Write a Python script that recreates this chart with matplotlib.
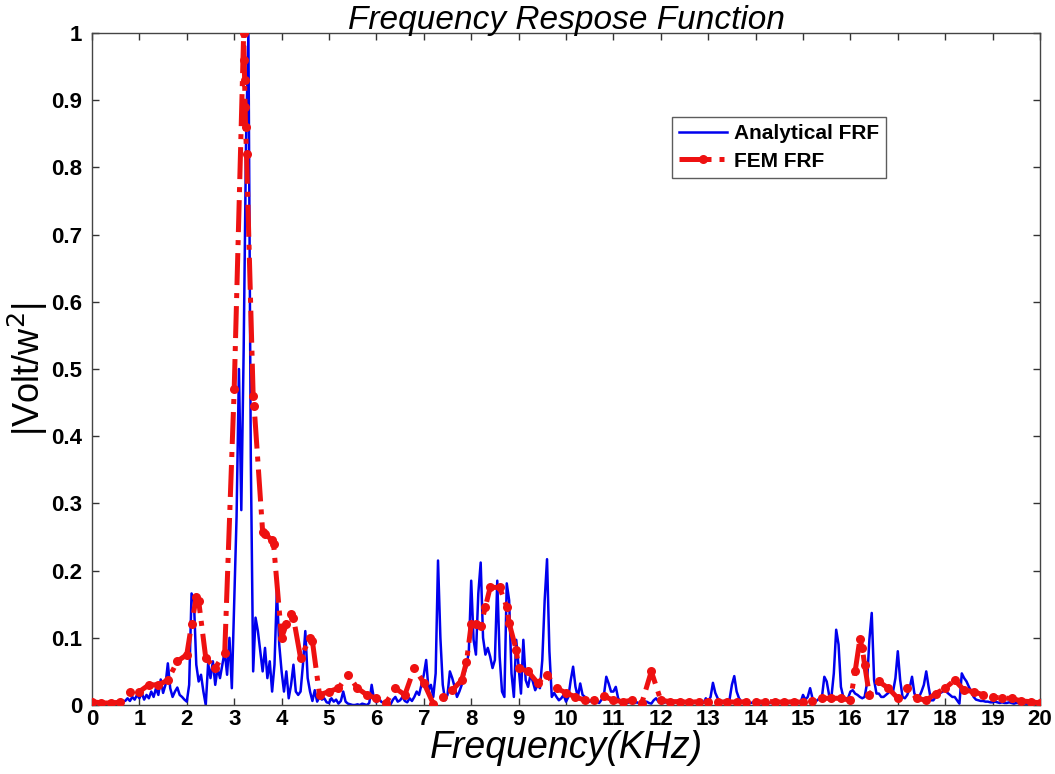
import numpy as np
import matplotlib
matplotlib.use("Agg")
import matplotlib.pyplot as plt

plt.rcParams['font.family'] = ['Liberation Sans', 'DejaVu Sans']

# Analytical FRF sampled every 0.05 kHz (one row per kHz)
freq_step = 0.05
analytical = [
    0.002, 0.002, 0.002, 0.002, 0.002, 0.003, 0.003, 0.003, 0.004, 0.004, 0.005, 0.005, 0.006, 0.006, 0.006, 0.010, 0.006, 0.012, 0.008, 0.015,
    0.010, 0.018, 0.008, 0.015, 0.010, 0.020, 0.012, 0.025, 0.015, 0.038, 0.018, 0.030, 0.062, 0.025, 0.012, 0.020, 0.026, 0.015, 0.012, 0.008,
    0.005, 0.030, 0.166, 0.155, 0.060, 0.035, 0.045, 0.020, 0.000, 0.062, 0.040, 0.065, 0.030, 0.055, 0.040, 0.060, 0.080, 0.045, 0.100, 0.025,
    0.150, 0.280, 0.500, 0.290, 0.530, 0.840, 1.000, 0.370, 0.050, 0.130, 0.110, 0.080, 0.050, 0.085, 0.040, 0.065, 0.020, 0.060, 0.170, 0.090,
    0.050, 0.020, 0.050, 0.010, 0.030, 0.060, 0.020, 0.015, 0.020, 0.060, 0.110, 0.040, 0.020, 0.006, 0.022, 0.005, 0.012, 0.008, 0.010, 0.004,
    0.003, 0.010, 0.005, 0.008, 0.002, 0.006, 0.020, 0.005, 0.002, 0.001, 0.000, 0.000, 0.001, 0.000, 0.002, 0.001, 0.000, 0.003, 0.030, 0.008,
    0.004, 0.010, 0.005, 0.003, 0.002, 0.000, 0.001, 0.008, 0.012, 0.005, 0.007, 0.012, 0.006, 0.004, 0.010, 0.006, 0.012, 0.020, 0.015, 0.030,
    0.045, 0.067, 0.022, 0.030, 0.012, 0.047, 0.215, 0.100, 0.030, 0.007, 0.015, 0.050, 0.040, 0.027, 0.012, 0.020, 0.030, 0.045, 0.057, 0.080,
    0.185, 0.097, 0.075, 0.166, 0.212, 0.100, 0.075, 0.085, 0.072, 0.055, 0.067, 0.185, 0.072, 0.020, 0.012, 0.181, 0.156, 0.047, 0.012, 0.097,
    0.057, 0.017, 0.097, 0.037, 0.027, 0.045, 0.035, 0.022, 0.030, 0.025, 0.067, 0.156, 0.217, 0.080, 0.012, 0.018, 0.012, 0.007, 0.010, 0.015,
    0.005, 0.012, 0.037, 0.057, 0.027, 0.012, 0.032, 0.015, 0.012, 0.007, 0.005, 0.008, 0.004, 0.005, 0.003, 0.008, 0.015, 0.042, 0.032, 0.020,
    0.020, 0.027, 0.010, 0.005, 0.004, 0.006, 0.003, 0.005, 0.004, 0.003, 0.004, 0.002, 0.003, 0.004, 0.005, 0.003, 0.002, 0.007, 0.010, 0.005,
    0.004, 0.003, 0.004, 0.005, 0.003, 0.004, 0.003, 0.005, 0.004, 0.003, 0.004, 0.005, 0.003, 0.004, 0.003, 0.004, 0.005, 0.004, 0.003, 0.010,
    0.005, 0.012, 0.033, 0.018, 0.010, 0.005, 0.004, 0.003, 0.004, 0.008, 0.030, 0.043, 0.020, 0.010, 0.005, 0.004, 0.003, 0.004, 0.003, 0.004,
    0.003, 0.004, 0.003, 0.002, 0.003, 0.004, 0.003, 0.003, 0.002, 0.003, 0.004, 0.003, 0.002, 0.003, 0.003, 0.004, 0.003, 0.002, 0.003, 0.004,
    0.015, 0.008, 0.012, 0.025, 0.010, 0.005, 0.007, 0.010, 0.012, 0.042, 0.035, 0.015, 0.012, 0.047, 0.112, 0.090, 0.027, 0.012, 0.008, 0.010,
    0.020, 0.022, 0.017, 0.015, 0.012, 0.010, 0.012, 0.032, 0.097, 0.137, 0.037, 0.017, 0.017, 0.012, 0.012, 0.015, 0.018, 0.022, 0.020, 0.040,
    0.080, 0.037, 0.012, 0.010, 0.015, 0.025, 0.042, 0.017, 0.012, 0.012, 0.020, 0.030, 0.050, 0.027, 0.007, 0.007, 0.012, 0.015, 0.018, 0.020,
    0.022, 0.018, 0.015, 0.012, 0.012, 0.007, 0.002, 0.047, 0.040, 0.035, 0.027, 0.020, 0.012, 0.008, 0.007, 0.006, 0.006, 0.005, 0.005, 0.004,
    0.004, 0.005, 0.004, 0.003, 0.004, 0.003, 0.003, 0.004, 0.003, 0.002, 0.003, 0.003, 0.002, 0.003, 0.002, 0.002, 0.003, 0.002, 0.002, 0.002,
    0.002,
]
analytical_freq = np.arange(len(analytical)) * freq_step

# FEM FRF samples (kHz, normalised magnitude)
fem_freq = [
    0.0, 0.2, 0.4, 0.6, 0.8, 1.0, 1.2, 1.4, 1.6, 1.8, 2.0, 2.1, 2.2, 2.25, 2.4, 2.6, 2.8,
    3.0, 3.2, 3.21, 3.22, 3.23, 3.24, 3.26, 3.4, 3.42, 3.6, 3.65, 3.8, 3.83,
    4.0, 4.1, 4.2, 4.25, 4.4, 4.6, 4.65, 4.8, 5.0, 5.2, 5.4, 5.6, 5.8, 6.0, 6.2, 6.4, 6.6, 6.8,
    7.0, 7.2, 7.4, 7.6, 7.8, 7.9, 8.0, 8.1, 8.2, 8.3, 8.4, 8.6, 8.75, 8.8, 8.95,
    9.0, 9.2, 9.4, 9.6, 9.8, 10.0, 10.2, 10.4, 10.6, 10.8, 11.0, 11.2, 11.4, 11.6, 11.8,
    12.0, 12.2, 12.4, 12.6, 12.8, 13.0, 13.2, 13.4, 13.6, 13.8, 14.0, 14.2, 14.4, 14.6, 14.8,
    15.0, 15.2, 15.4, 15.6, 15.8, 16.0, 16.1, 16.2, 16.25, 16.3, 16.4, 16.6, 16.8,
    17.0, 17.2, 17.4, 17.6, 17.8, 18.0, 18.2, 18.4, 18.6, 18.8, 19.0, 19.2, 19.4, 19.6, 19.8, 20.0,
]
fem = [
    0.005, 0.003, 0.003, 0.004, 0.020, 0.020, 0.030, 0.030, 0.037, 0.065, 0.075, 0.120, 0.160, 0.155, 0.070, 0.055, 0.078,
    0.470, 1.000, 0.960, 0.930, 0.890, 0.860, 0.820, 0.460, 0.445, 0.258, 0.255, 0.245, 0.240,
    0.100, 0.120, 0.135, 0.130, 0.070, 0.100, 0.095, 0.015, 0.020, 0.025, 0.045, 0.025, 0.015, 0.010, 0.003, 0.025, 0.015, 0.055,
    0.033, 0.002, 0.012, 0.022, 0.037, 0.064, 0.120, 0.121, 0.118, 0.146, 0.175, 0.175, 0.146, 0.122, 0.082,
    0.055, 0.050, 0.033, 0.045, 0.025, 0.018, 0.012, 0.007, 0.008, 0.013, 0.007, 0.005, 0.007, 0.003, 0.050,
    0.007, 0.005, 0.005, 0.004, 0.005, 0.005, 0.004, 0.005, 0.004, 0.005, 0.004, 0.005, 0.005, 0.004, 0.005,
    0.004, 0.006, 0.010, 0.010, 0.010, 0.007, 0.050, 0.098, 0.085, 0.060, 0.015, 0.035, 0.025,
    0.010, 0.025, 0.010, 0.007, 0.017, 0.025, 0.037, 0.022, 0.020, 0.015, 0.012, 0.010, 0.010, 0.006, 0.005, 0.003,
]

x_ticks = list(range(0, 21))
y_ticks = [0, 0.1, 0.2, 0.3, 0.4, 0.5, 0.6, 0.7, 0.8, 0.9, 1]
y_tick_labels = ['0', '0.1', '0.2', '0.3', '0.4', '0.5', '0.6', '0.7', '0.8', '0.9', '1']

fig = plt.figure(figsize=(10.55, 7.74), dpi=100)
ax = fig.add_axes([92 / 1055, 1 - 705 / 774, 948 / 1055, 672 / 774])

ax.plot(analytical_freq, analytical, color='#0000ee', lw=1.8, label='Analytical FRF', zorder=2)
ax.plot(fem_freq, fem, color='#ee1111', lw=3.6, ls='-.', marker='o', markersize=6.5,
        markeredgewidth=0, label='FEM FRF', zorder=3)

ax.set_xlim(0, 20)
ax.set_ylim(0, 1)
ax.set_xticks(x_ticks)
ax.set_xticklabels([str(t) for t in x_ticks])
ax.set_yticks(y_ticks)
ax.set_yticklabels(y_tick_labels)
ax.tick_params(direction='in', top=True, right=True, length=5, width=1, color='#333333',
               labelsize=16)
ax.tick_params(axis='y', pad=7)
ax.tick_params(axis='x', pad=3)
for lab in ax.get_xticklabels() + ax.get_yticklabels():
    lab.set_fontweight('bold')
for sp in ax.spines.values():
    sp.set_color('#444444')
    sp.set_linewidth(1.0)

ax.set_title('Frequency Respose Function', fontsize=24, style='italic', pad=3)
ax.set_xlabel('Frequency(KHz)', fontsize=27, style='italic', labelpad=0)
ax.set_ylabel('|Volt/w$^2$|', fontsize=26, labelpad=1)

leg = ax.legend(loc='upper left', bbox_to_anchor=(0.612, 0.875), frameon=True, fancybox=False,
                edgecolor='#333333', prop={'weight': 'bold', 'size': 15}, handlelength=2.3,
                borderpad=0.35, labelspacing=0.4, handletextpad=0.3, borderaxespad=0)
leg.get_frame().set_linewidth(1.0)

fig.savefig('out.png', dpi=100)
